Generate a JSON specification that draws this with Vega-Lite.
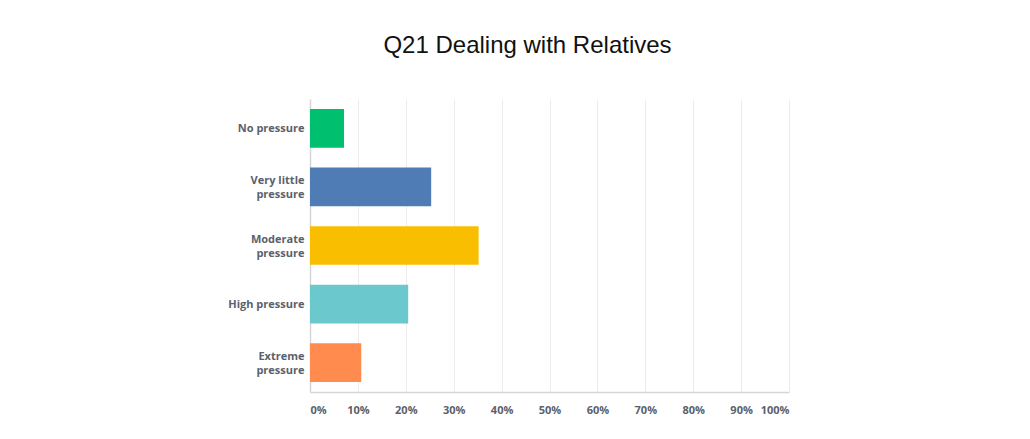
{
  "$schema": "https://vega.github.io/schema/vega-lite/v6.json",
  "autosize": {"type": "none"},
  "padding": {"left": 310, "top": 99, "right": 241, "bottom": 47},
  "width": 479,
  "height": 293,
  "background": "white",
  "title": {
    "text": "Q21 Dealing with Relatives",
    "font": "Liberation Sans",
    "fontSize": 24,
    "fontWeight": "normal",
    "color": "#111111",
    "anchor": "middle",
    "baseline": "alphabetic",
    "offset": 22,
    "dx": -22
  },
  "data": {
    "values": [
      {"answer": "No pressure", "percent": 7.1},
      {"answer": "Very little pressure", "percent": 25.3},
      {"answer": "Moderate pressure", "percent": 35.2},
      {"answer": "High pressure", "percent": 20.5},
      {"answer": "Extreme pressure", "percent": 10.7}
    ]
  },
  "mark": {"type": "bar"},
  "encoding": {
    "y": {
      "field": "answer",
      "type": "nominal",
      "sort": null,
      "scale": {"paddingInner": 0.34, "paddingOuter": 0.17},
      "axis": {
        "title": null,
        "ticks": false,
        "domain": true,
        "domainColor": "#d6d6d6",
        "domainWidth": 1.5,
        "labelFont": "Open Sans",
        "labelFontSize": 11,
        "labelFontWeight": "bold",
        "labelColor": "#5b616b",
        "labelPadding": 6,
        "labelLineHeight": 7,
        "labelOffset": -6,
        "labelOverlap": false,
        "labelExpr": "indexof(datum.value,'No')==0 || indexof(datum.value,'High')==0 ? ['\u200b', datum.value] : [replace(datum.value,' pressure',''), '\u200b', 'pressure']"
      }
    },
    "x": {
      "field": "percent",
      "type": "quantitative",
      "scale": {"domain": [0, 100], "nice": false},
      "axis": {
        "title": null,
        "values": [0, 10, 20, 30, 40, 50, 60, 70, 80, 90, 100],
        "labelExpr": "datum.value + '%'",
        "ticks": false,
        "domainColor": "#d6d6d6",
        "domainWidth": 1.5,
        "grid": true,
        "gridColor": "#ececec",
        "gridWidth": 1,
        "labelFont": "Open Sans",
        "labelFontSize": 11,
        "labelFontWeight": "bold",
        "labelColor": "#5b616b",
        "labelPadding": 12,
        "labelFlush": true
      }
    },
    "color": {
      "field": "answer",
      "type": "nominal",
      "sort": null,
      "scale": {
        "domain": ["No pressure", "Very little pressure", "Moderate pressure", "High pressure", "Extreme pressure"],
        "range": ["#00bf6f", "#507cb6", "#f9be00", "#6bc8cd", "#ff8b4f"]
      },
      "legend": null
    }
  },
  "config": {
    "view": {"stroke": null},
    "axisY": {"grid": false}
  }
}
